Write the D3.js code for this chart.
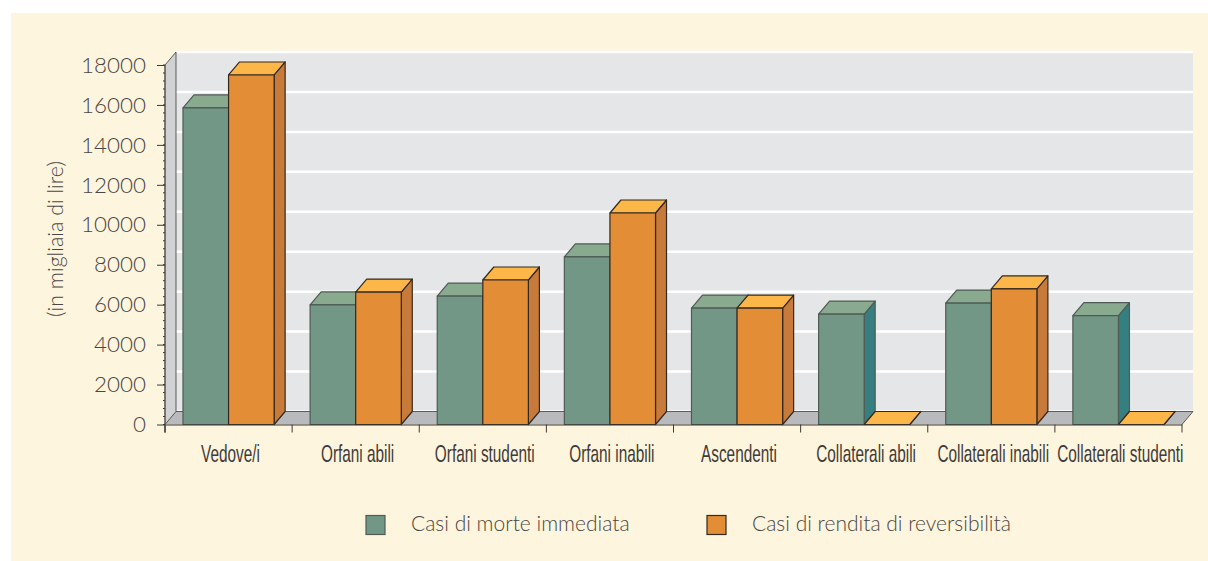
<!DOCTYPE html>
<html>
<head>
<meta charset="utf-8">
<script src="https://cdn.jsdelivr.net/npm/d3@7"></script>
<style>
  html, body { margin: 0; padding: 0; background: #fff; overflow: hidden; }
  svg { display: block; }
</style>
</head>
<body>
<script>
//Values
var categories = ["Vedove/i", "Orfani abili", "Orfani studenti", "Orfani inabili",
  "Ascendenti", "Collaterali abili", "Collaterali inabili", "Collaterali studenti"];
var morteImmediata = [15850, 5985, 6430, 8390, 5830, 5530, 6080, 5450];
var renditaReversibilita = [17500, 6630, 7235, 10590, 5830, 0, 6790, 0];
var seriesNames = ["Casi di morte immediata", "Casi di rendita di reversibilità"];
var yTicks = [0, 2000, 4000, 6000, 8000, 10000, 12000, 14000, 16000, 18000];
var yMinorTicks = d3.range(0, 18001, 400);

var W = 1208;
var H = 561;
var Left = 165;
var Right = 1182;
var Top = 65;
var Bottom = 424.5;
var DepthX = 11;
var DepthY = 13;

var TextColor = "#4a4643";
var LineColor = "#3c3a38";
var colors = [
  {front: "#739787", top: "#89aa8f", side: "#357f80", stroke: "#4f5a55"},
  {front: "#e38d36", top: "#fdb748", side: "#c87a3a", stroke: "#33291f"}
];

function main() {
  var svg = d3.select("body").append("svg")
    .attr("width", W)
    .attr("height", H);

  svg.append("rect")
    .attr("x", 11).attr("y", 13)
    .attr("width", W - 11).attr("height", H - 13)
    .attr("fill", "#fef5de");

  var xScale = d3.scaleBand()
    .domain(categories)
    .range([Left, Right])
    .paddingInner(0.283)
    .paddingOuter(0.1415);
  var xBar = d3.scaleBand()
    .domain([0, 1])
    .range([0, xScale.bandwidth()]);
  var xAxisScale = d3.scaleBand()
    .domain(categories)
    .range([Left, Right]);
  var yScale = d3.scaleLinear()
    .domain([0, 18000])
    .range([Bottom, Top]);

  drawWalls(svg, yScale);
  drawBars(svg, xScale, xBar, yScale);
  drawAxes(svg, xAxisScale, yScale);
  drawLegend(svg);
}

function drawWalls(svg, yScale) {
  //Back wall, left wall and floor of the 3d box
  var backTop = yScale(18000) - DepthY;
  var backBottom = yScale(0) - DepthY;

  svg.append("rect")
    .attr("x", Left + DepthX).attr("y", backTop)
    .attr("width", Right - Left).attr("height", backBottom - backTop)
    .attr("fill", "#e5e6e8");

  svg.append("g").selectAll("line")
    .data(yTicks)
    .enter()
    .append("line")
    .attr("x1", Left + DepthX)
    .attr("x2", Right + DepthX)
    .attr("y1", function(d) { return yScale(d) - DepthY; })
    .attr("y2", function(d) { return yScale(d) - DepthY; })
    .attr("stroke", "#ffffff")
    .attr("stroke-width", 2.5);

  svg.append("path")
    .attr("d", d3.line()([[Left, yScale(18000)], [Left + DepthX, backTop],
      [Left + DepthX, backBottom], [Left, yScale(0)]]) + "Z")
    .attr("fill", "#d0d1d3");

  svg.append("path")
    .attr("d", d3.line()([[Left, yScale(0)], [Left + DepthX, backBottom],
      [Right + DepthX, backBottom], [Right, yScale(0)]]) + "Z")
    .attr("fill", "#b9babd");

  svg.append("path")
    .attr("d", d3.line()([[Left, yScale(18000)], [Left + DepthX, backTop],
      [Left + DepthX, backBottom], [Right + DepthX, backBottom], [Right, yScale(0)]]))
    .attr("fill", "none")
    .attr("stroke", LineColor)
    .attr("stroke-width", 0.8);
  svg.append("line")
    .attr("x1", Left).attr("x2", Left + DepthX)
    .attr("y1", yScale(0)).attr("y2", backBottom)
    .attr("stroke", LineColor)
    .attr("stroke-width", 0.8);
}

function drawBars(svg, xScale, xBar, yScale) {
  var w = xBar.bandwidth();
  [morteImmediata, renditaReversibilita].forEach(function(values, s) {
    var g = svg.append("g");
    categories.forEach(function(c, i) {
      var x = xScale(c) + xBar(s);
      var y = yScale(values[i]);
      var base = yScale(0);
      var col = colors[s];
      var bar = g.append("g")
        .attr("stroke", col.stroke)
        .attr("stroke-width", 1.2)
        .attr("stroke-linejoin", "round");
      bar.append("path")
        .attr("d", d3.line()([[x + w, y], [x + w + DepthX, y - DepthY],
          [x + w + DepthX, base - DepthY], [x + w, base]]) + "Z")
        .attr("fill", col.side);
      bar.append("path")
        .attr("d", d3.line()([[x, y], [x + DepthX, y - DepthY],
          [x + w + DepthX, y - DepthY], [x + w, y]]) + "Z")
        .attr("fill", col.top);
      bar.append("rect")
        .attr("x", x).attr("y", y)
        .attr("width", w).attr("height", base - y)
        .attr("fill", col.front);
    });
  });
}

function drawAxes(svg, xAxisScale, yScale) {
  var yAxis = d3.axisLeft(yScale)
    .tickValues(yTicks)
    .tickSize(8)
    .tickPadding(11)
    .tickFormat(d3.format("d"));
  var gy = svg.append("g")
    .attr("transform", "translate(" + Left + ",0)")
    .call(yAxis);
  gy.selectAll("line").attr("stroke", LineColor);
  gy.select(".domain")
    .attr("stroke", "#55524f")
    .attr("stroke-width", 1.5)
    .attr("d", "M0," + Top + "V" + (Bottom + 8));
  gy.selectAll("text")
    .attr("font-family", "Lato, sans-serif")
    .attr("font-weight", 300)
    .attr("font-size", 22.4)
    .attr("fill", TextColor);

  var gm = svg.append("g");
  gm.selectAll("line")
    .data(yMinorTicks)
    .enter()
    .append("line")
    .attr("x1", Left - 2).attr("x2", Left)
    .attr("y1", function(d) { return yScale(d); })
    .attr("y2", function(d) { return yScale(d); })
    .attr("stroke", LineColor);

  var xAxis = d3.axisBottom(xAxisScale).tickSize(0).tickPadding(20.5);
  var gx = svg.append("g")
    .attr("transform", "translate(0," + Bottom + ")")
    .call(xAxis);
  gx.select(".domain").attr("stroke", LineColor);
  //The labels are a condensed face: squeeze the text sideways
  gx.selectAll("text")
    .attr("font-family", "'Liberation Sans', sans-serif")
    .attr("font-size", 24)
    .attr("x", 3)
    .attr("transform", "scale(0.64,1)")
    .attr("fill", "#3f3b38");

  //Ticks fall between the categories
  gx.append("g").selectAll("line")
    .data(d3.range(categories.length + 1))
    .enter()
    .append("line")
    .attr("x1", function(i) { return Left + i * xAxisScale.step(); })
    .attr("x2", function(i) { return Left + i * xAxisScale.step(); })
    .attr("y1", 0).attr("y2", 8)
    .attr("stroke", LineColor);

  svg.append("text")
    .attr("transform", "translate(63,239) rotate(-90)")
    .attr("text-anchor", "middle")
    .attr("font-family", "Lato, sans-serif")
    .attr("font-weight", 300)
    .attr("font-size", 21.3)
    .attr("fill", TextColor)
    .text("(in migliaia di lire)");
}

function drawLegend(svg) {
  var xs = [366, 707];
  seriesNames.forEach(function(name, i) {
    svg.append("rect")
      .attr("x", xs[i]).attr("y", 515.5)
      .attr("width", 19).attr("height", 19)
      .attr("fill", colors[i].front)
      .attr("stroke", colors[i].stroke)
      .attr("stroke-width", 1.2);
    svg.append("text")
      .attr("x", xs[i] + 45).attr("y", 531)
      .attr("font-family", "Lato, sans-serif")
      .attr("font-weight", 300)
      .attr("font-size", 21)
      .attr("fill", TextColor)
      .text(name);
  });
}

main();
</script>
</body>
</html>
